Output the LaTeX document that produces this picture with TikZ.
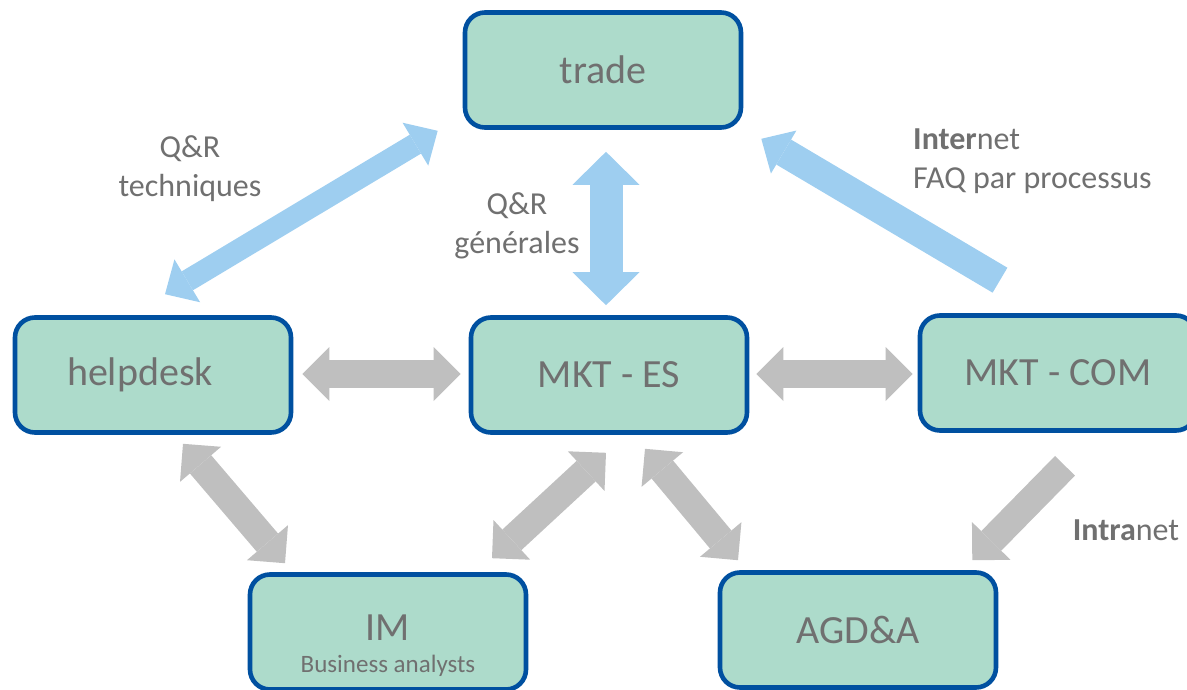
\documentclass[tikz,border=0pt]{standalone}
\usepackage{fontspec}
\setmainfont{Carlito}
\usetikzlibrary{arrows.meta}
\definecolor{boxgreen}{RGB}{173,219,203}
\definecolor{boxblue}{RGB}{0,80,160}
\definecolor{arrowgray}{RGB}{191,191,191}
\definecolor{arrowblue}{RGB}{158,206,240}
\definecolor{txtgray}{RGB}{112,112,112}
\tikzset{
  box/.style={draw=boxblue,line width=4.6pt,fill=boxgreen,rounded corners=20pt,
    minimum width=276pt,minimum height=115pt,text=txtgray,
    font=\fontsize{40}{46}\selectfont},
  lbl/.style={text=txtgray,font=\fontsize{32}{39}\selectfont,inner sep=0pt},
  grayarrow/.style={draw=arrowgray,line width=28pt,
    >={Triangle[length=27pt,width=54pt,line width=0pt]}},
  bluearrow/.style={draw=arrowblue,line width=#1,
    >={Triangle[length=26pt,width=50pt,line width=0pt]}},
}
\begin{document}
\begin{tikzpicture}[x=1pt,y=-1pt]
\useasboundingbox (0,0) rectangle (1187,690);
\node [box] (trade) at (603,70) {trade};
\node [box] (helpdesk) at (153,375) {helpdesk\hspace*{26pt}};
\node [box] (mktes) at (609,375) {MKT - ES};
\node [box] (mktcom) at (1058,373) {MKT - COM};
\node [box,align=center] (im) at (388,632) {\rule{0pt}{53pt}IM\\[-14pt]{\fontsize{25}{29}\selectfont Business analysts}};
\node [box] (agda) at (858,630) {AGD\&A};

\node [lbl,align=center] (qrtech) at (190,169) {Q\&R\\techniques};
\node [lbl,align=center] (qrgen) at (517,226) {Q\&R\\générales};
\node [lbl,align=left,anchor=west] (inet) at (913,161) {\textbf{Inter}net\\FAQ par processus};
\node [lbl] (intra) at (1126,530) {\textbf{Intra}net};

\draw [bluearrow=22pt,<->] ([shift={(12,-21)}]helpdesk.north) -- ([shift={(-25,1)}]trade.south west);
\draw [bluearrow=33pt,<->,>={Triangle[length=33pt,width=67pt,line width=0pt]}]
  ([shift={(3,22)}]trade.south) -- ([shift={(-3,-10)}]mktes.north);
\draw [bluearrow=29pt,->] ([shift={(-58,-33)}]mktcom.north) -- ([shift={(18,9)}]trade.south east);

\draw [grayarrow,<->] ([shift={(9,-1)}]helpdesk.east) -- ([shift={(-8,-1)}]mktes.west);
\draw [grayarrow,<->] ([shift={(7,-1)}]mktes.east) -- ([shift={(-5,1)}]mktcom.west);
\draw [grayarrow,<->] ([shift={(30,9)}]helpdesk.south) -- ([shift={(-103,-9)}]im.north);
\draw [grayarrow,<->] ([shift={(-3,18)}]mktes.south) -- ([shift={(104,-14)}]im.north);
\draw [grayarrow,<->] ([shift={(36,14)}]mktes.south) -- ([shift={(-120,-10)}]agda.north);
\draw [grayarrow,->] ([shift={(7,33)}]mktcom.south) -- ([shift={(-26,-10)}]agda.north east);
\end{tikzpicture}
\end{document}
